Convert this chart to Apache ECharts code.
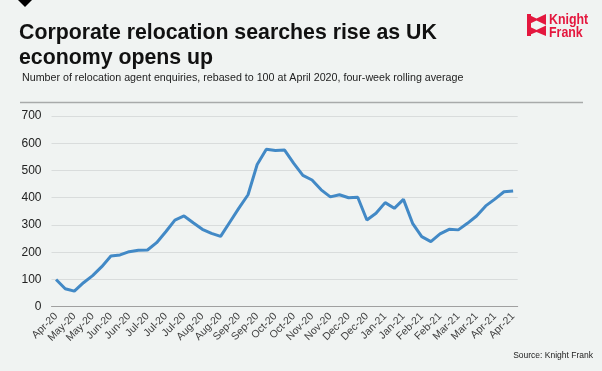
<!DOCTYPE html>
<html>
<head>
<meta charset="utf-8">
<script src="https://cdn.jsdelivr.net/npm/echarts@6/dist/echarts.min.js"></script>
<style>
html,body{margin:0;padding:0;background:#f0f3f2;}
#c{width:602px;height:371px;}
</style>
</head>
<body>
<div id="c"></div>
<script>
const categories = [
  'Apr-20','May-20','May-20','May-20','May-20','Jun-20','Jun-20','Jun-20','Jun-20','Jul-20',
  'Jul-20','Jul-20','Jul-20','Jul-20','Jul-20','Aug-20','Aug-20','Aug-20','Aug-20','Sep-20',
  'Sep-20','Sep-20','Sep-20','Oct-20','Oct-20','Oct-20','Oct-20','Nov-20','Nov-20','Nov-20',
  'Nov-20','Dec-20','Dec-20','Dec-20','Dec-20','Jan-21','Jan-21','Jan-21','Jan-21','Feb-21',
  'Feb-21','Feb-21','Feb-21','Mar-21','Mar-21','Mar-21','Mar-21','Apr-21','Apr-21','Apr-21',
  'Apr-21'
];
const enquiries = [
  100, 66, 57, 88, 114, 147, 186, 190, 202, 207,
  208, 235, 275, 318, 333, 308, 284, 269, 258, 310,
  362, 411, 522, 578, 573, 575, 526, 482, 465, 429,
  403, 411, 400, 402, 318, 343, 382, 361, 394, 306,
  257, 239, 267, 284, 282, 306, 333, 370, 395, 422,
  425
];
const yTicks = { min: 0, max: 700, interval: 100 };
const titleText = 'Corporate relocation searches rise as UK\neconomy opens up';
const subtitleText = 'Number of relocation agent enquiries, rebased to 100 at April 2020, four-week rolling average';
const sourceText = 'Source: Knight Frank';

const FONT = '"Liberation Sans", Arial, sans-serif';
const RED = '#e4173e';
const LOGO_FONT = 'bold 15.5px "Liberation Sans", Arial, sans-serif';
const chart = echarts.init(document.getElementById('c'), null, {renderer: 'canvas'});
chart.setOption({
  backgroundColor: '#f0f3f2',
  animation: false,
  title: [
    {
      text: titleText, left: 19, top: 21, padding: 0,
      textStyle: { fontFamily: FONT, fontSize: 21.3, fontWeight: 'bold', color: '#111', lineHeight: 25 }
    },
    {
      text: subtitleText, left: 22, top: 71.5, padding: 0,
      textStyle: { fontFamily: FONT, fontSize: 10.7, fontWeight: 'normal', color: '#222', lineHeight: 13 }
    },
    {
      text: sourceText, right: 9, top: 351, padding: 0,
      textStyle: { fontFamily: FONT, fontSize: 8.5, fontWeight: 'normal', color: '#222', lineHeight: 10 }
    }
  ],
  graphic: [
    { type: 'polygon', shape: { points: [[18, 0], [32, 0], [25, 7]] }, style: { fill: '#000' } },
    { type: 'line', shape: { x1: 20, y1: 102.5, x2: 583, y2: 102.5 }, style: { stroke: '#a8aaaa', lineWidth: 1.3 } },
    { type: 'polygon', shape: { points: [[527, 14], [536.5, 18.5], [546, 14], [546, 25], [536.5, 20.5], [527, 25]] }, style: { fill: RED } },
    { type: 'polygon', shape: { points: [[527, 25.5], [536.5, 30], [546, 25.5], [546, 36], [536.5, 32], [527, 36]] }, style: { fill: RED } },
    { type: 'rect', shape: { x: 527, y: 14, width: 4, height: 22 }, style: { fill: RED } },
    { type: 'text', x: 549, y: 12, scaleX: 0.8, style: { text: 'Knight', fill: RED, font: LOGO_FONT } },
    { type: 'text', x: 549, y: 25, scaleX: 0.8, style: { text: 'Frank', fill: RED, font: LOGO_FONT } }
  ],
  grid: { left: 51.5, right: 84.3, top: 116, bottom: 64.3, containLabel: false },
  xAxis: {
    type: 'category',
    data: categories,
    boundaryGap: true,
    axisLine: { lineStyle: { color: '#a0a0a0', width: 1 } },
    axisTick: { show: false },
    axisLabel: { interval: 1, rotate: 45, margin: 8, fontFamily: FONT, fontSize: 10.5, color: '#404040' },
    splitLine: { show: false }
  },
  yAxis: {
    type: 'value',
    min: yTicks.min, max: yTicks.max, interval: yTicks.interval,
    axisLine: { show: false },
    axisTick: { show: false },
    axisLabel: { margin: 10, fontFamily: FONT, fontSize: 12, color: '#222' },
    splitLine: { lineStyle: { color: '#d9dcdc', width: 1 } }
  },
  series: [{
    type: 'line',
    data: enquiries,
    showSymbol: false,
    symbol: 'none',
    lineStyle: { color: '#4289c6', width: 3 },
    z: 3
  }]
});
</script>
</body>
</html>
